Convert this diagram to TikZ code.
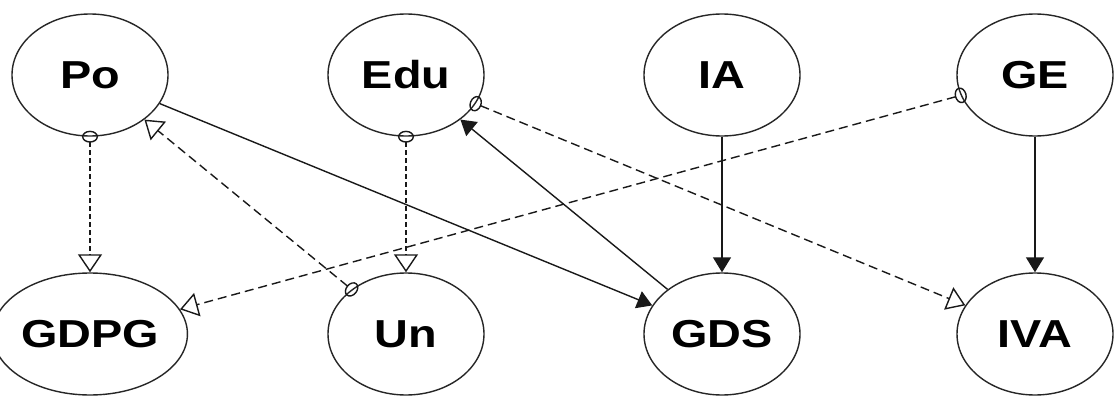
\documentclass[tikz,border=0pt]{standalone}
\usepackage{fontspec}
\usepackage{graphicx}
\setmainfont{Liberation Sans}
\usetikzlibrary{arrows.meta,shapes.geometric}
\begin{document}
\begin{tikzpicture}[x=1pt,y=-1pt,
  var/.style={ellipse, draw=black!85, line width=1.4pt, minimum width=156pt, minimum height=122pt, inner sep=0pt,
    font=\fontsize{39}{41}\selectfont\bfseries},
  link/.style={line width=1.4pt, draw=black!90},
  dotlink/.style={link, dash pattern=on 5pt off 3pt,
    {Circle[open,length=12pt,width=16pt]}-{Triangle[open,length=18pt,width=24pt]}, shorten <=-6pt},
  dashlink/.style={link, dash pattern=on 9pt off 5pt,
    {Circle[open,length=12pt,width=16pt]}-{Triangle[open,length=18pt,width=24pt]}, shorten <=-6pt},
  causal/.style={link, -{Triangle[length=15pt,width=18pt]}}
]
\useasboundingbox (0,0) rectangle (1114,396);
\fill[white] (0,0) rectangle (1114,396);
\node[var] (Po)   at (90,75)   {\scalebox{1.2}[1]{Po}};
\node[var] (Edu)  at (406,75)  {\scalebox{1.2}[1]{Edu}};
\node[var] (IA)   at (722,75)  {\scalebox{1.2}[1]{IA}};
\node[var] (GE)   at (1035,75) {\scalebox{1.2}[1]{GE}};
\node[var] (GDPG) at (90,334)  {\scalebox{1.2}[1]{GDPG}};
\node[var] (Un)   at (406,334) {\scalebox{1.2}[1]{Un}};
\node[var] (GDS)  at (722,334) {\scalebox{1.2}[1]{GDS}};
\node[var] (IVA)  at (1035,334) {\scalebox{1.2}[1]{IVA}};

\draw[dotlink]  (Po) -- (GDPG);
\draw[dotlink]  (Edu) -- (Un);
\draw[dashlink] (Un) -- (Po);
\draw[dashlink] (Edu) -- (IVA);
\draw[dashlink] (GE) -- (GDPG);
\draw[causal] (Po) -- (GDS);
\draw[causal] (GDS) -- (Edu);
\draw[causal] (IA) -- (GDS);
\draw[causal] (GE) -- (IVA);
\end{tikzpicture}
\end{document}
